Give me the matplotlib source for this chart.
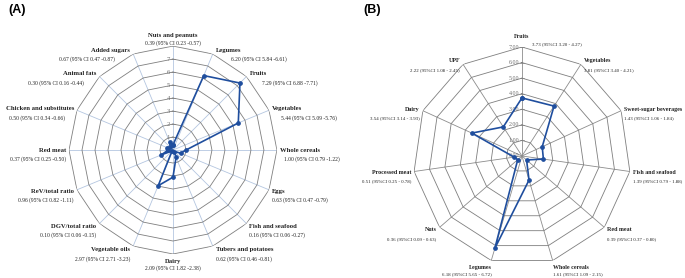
import numpy as np
import matplotlib.pyplot as plt

# panel A: adherence scores, 16 components
a_names = ['Nuts and peanuts', 'Legumes', 'Fruits', 'Vegetables', 'Whole cereals',
           'Eggs', 'Fish and seafood', 'Tubers and potatoes', 'Dairy', 'Vegetable oils',
           'DGV/total ratio', 'ReV/total ratio', 'Red meat', 'Chicken and substitutes',
           'Animal fats', 'Added sugars']
a_vals = [0.39, 6.20, 7.29, 5.44, 1.00, 0.63, 0.16, 0.62, 2.09, 2.97, 0.10, 0.96,
          0.37, 0.50, 0.30, 0.67]
a_lo = [0.23, 5.84, 6.88, 5.09, 0.79, 0.47, 0.06, 0.46, 1.82, 2.71, 0.06, 0.82,
        0.25, 0.34, 0.16, 0.47]
a_hi = [0.57, 6.61, 7.71, 5.76, 1.22, 0.79, 0.27, 0.81, 2.38, 3.23, 0.15, 1.11,
        0.50, 0.66, 0.44, 0.87]
a_ticks = [0, 1, 2, 3, 4, 5, 6, 7]

# panel B: 11 components
b_names = ['Fruits', 'Vegetables', 'Sweet-sugar beverages', 'Fish and seafood', 'Red meat',
           'Whole cereals', 'Legumes', 'Nuts', 'Processed meat', 'Dairy', 'UPF']
b_vals = [3.73, 3.81, 1.43, 1.39, 0.39, 1.61, 6.18, 0.36, 0.51, 3.54, 2.22]
b_lo = [3.20, 3.40, 1.06, 0.79, 0.37, 1.09, 5.65, 0.09, 0.25, 3.14, 1.08]
b_hi = [4.27, 4.21, 1.84, 1.88, 0.80, 2.15, 6.72, 0.63, 0.78, 3.93, 2.45]
b_ticks = [0, 1, 2, 3, 4, 5, 6, 7]

LINE = '#1F4E9E'
SERIF = 'Liberation Serif'
PX = 72 / 100  # pixels -> points


def radar(ax, names, vals, ci, rmax, ticks, tickfmt, spoke_col, name_fs, ci_fs, ci_shift, top_ci):
    n = len(names)
    th = np.arange(n) * 2 * np.pi / n
    thc = np.append(th, th[0])
    ax.set_theta_zero_location('N')
    ax.set_theta_direction(-1)
    ax.set_ylim(0, rmax)
    ax.axis('off')

    for t in th:
        ax.plot([t, t], [0, rmax], color=spoke_col, lw=0.6, zorder=1)
    for r in range(1, int(rmax) + 1):
        ax.plot(thc, [r] * (n + 1), color='#7f7f7f', lw=0.6, zorder=2)

    # tick labels on the top spoke
    for r in ticks:
        h = 0.12
        if r > 0:
            ax.plot([-np.arctan(h / r), np.arctan(h / r)], [np.hypot(r, h)] * 2,
                    color='#7f7f7f', lw=0.5, zorder=2)
        ax.annotate(tickfmt(r), (0, r), xytext=(-3 * PX, 0), textcoords='offset points',
                    ha='right', va='center', fontsize=name_fs, color='#6e6e6e',
                    family=SERIF, zorder=3)

    ax.plot(thc, np.append(vals, vals[0]), color=LINE, lw=1.2, marker='o',
            markersize=2.4, zorder=4)

    for t, name, c in zip(th, names, ci):
        s, co = np.sin(t), np.cos(t)
        cha = None
        if abs(s) < 0.2:
            ha = 'center'
            sign = 0
        else:
            ha = 'left' if s > 0 else 'right'
            sign = 1 if s > 0 else -1
        if co > 0.95:
            nx, ny = 0, 11
            cx, cy, cha = top_ci
        elif co < -0.95:
            nx, ny, cx, cy = 0, -7, 0, -14
        else:
            nx = 3 * sign
            ny = 4 * co
            cx = nx + sign * ci_shift(co)
            cy = ny - 9
        ax.annotate(name, (t, rmax), xytext=(nx * PX, ny * PX), textcoords='offset points',
                    ha=ha, va='center', fontsize=name_fs, fontweight='bold', family=SERIF,
                    color='#222222', annotation_clip=False)
        ax.annotate(c, (t, rmax), xytext=(cx * PX, cy * PX), textcoords='offset points',
                    ha=cha or ha, va='center', fontsize=ci_fs, family=SERIF, color='#222222',
                    annotation_clip=False)


fig = plt.figure(figsize=(6.85, 2.78), dpi=100)

axa = fig.add_axes([0.1007, 0.0863, 0.3036, 0.748], projection='polar')
a_ci = ['%.2f (95%% CI %.2f -%.2f)' % v for v in zip(a_vals, a_lo, a_hi)]
radar(axa, a_names, a_vals, a_ci, 8, a_ticks, lambda r: '%d' % r, '#b4c6e0', 4.8, 4.0,
      lambda co: 4 + 12 * co if co > 0 else 0, (0, 3, 'center'))

axb = fig.add_axes([0.6029, 0.0468, 0.3182, 0.7842], projection='polar')
b_ci = ['%.2f (95%%CI %.2f - %.2f)' % v for v in zip(b_vals, b_lo, b_hi)]
radar(axb, b_names, b_vals, b_ci, 7, b_ticks, lambda r: '%.2f' % r, '#8c8c8c', 4.3, 3.5,
      lambda co: 0, (10, 3, 'left'))

fig.text(0.012, 0.985, '(A)', fontsize=9, fontweight='bold', family='Liberation Sans', va='top')
fig.text(0.531, 0.985, '(B)', fontsize=9, fontweight='bold', family='Liberation Sans', va='top')

fig.savefig('out.png', dpi=100, facecolor='white')
